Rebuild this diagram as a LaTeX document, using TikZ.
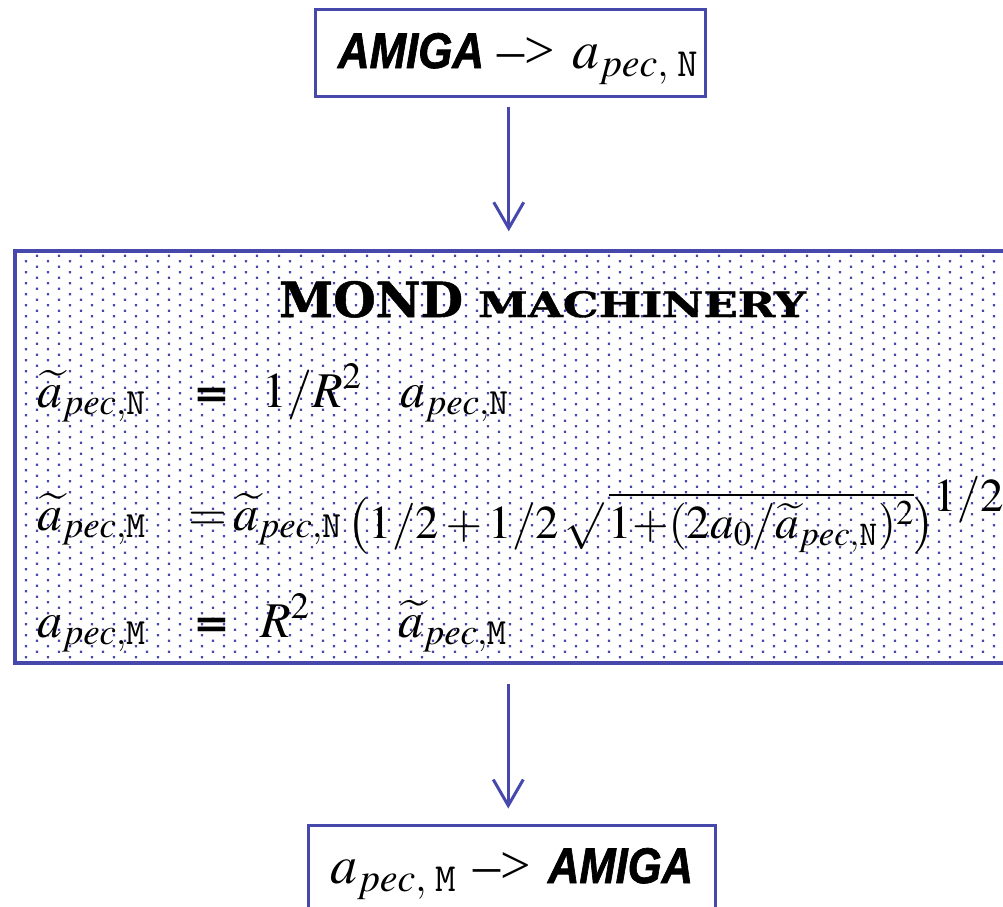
\documentclass[tikz,border=0pt]{standalone}
\usepackage{amsmath}
\usepackage{mathptmx}
\usepackage[no-math]{fontspec}
\setmainfont{Liberation Serif}
\setsansfont{Liberation Sans}
\newfontfamily\titlefont{DejaVu Serif}[FakeBold=1]
\newfontfamily\amigafont{Liberation Sans}[FakeBold=1.5]
\newfontfamily\eqbold{DejaVu Sans}
\usetikzlibrary{arrows.meta}
\definecolor{boxblue}{RGB}{70,72,172}
\newcommand{\ta}{\widetilde{a}}
\newcommand{\mN}{\text{\ttfamily N}}
\newcommand{\mM}{\text{\ttfamily M}}
\newcommand{\beq}{\scalebox{0.88}[0.8]{\eqbold\bfseries =}}
\tikzset{
  flowbox/.style={draw=boxblue, line width=3pt, inner sep=0pt, rectangle},
  flowarrow/.style={draw=boxblue, line width=3pt, -{Straight Barb[length=26pt,width=30pt]}},
  txt/.style={anchor=base west, inner sep=0pt, outer sep=0pt},
  eqfont/.style={font=\fontsize{50}{56}\selectfont},
  eqsmall/.style={font=\fontsize{47}{52}\selectfont},
  boxfont/.style={font=\fontsize{54}{60}\selectfont},
}
\begin{document}
\begin{tikzpicture}[x=1pt,y=-1pt]
\useasboundingbox (0,0) rectangle (1003,906);
\begin{scope}
\clip (0,0) rectangle (1003,906);
% dotted fill of the machinery box
\begin{scope}
\clip (15,251) rectangle (1012,663);
\fill[boxblue] \foreach \i in {0,...,44} { \foreach \j in {0,...,37} {
  ({37+22*\i-1.2},{255.7+11*\j-1.2}) rectangle ++(2.4,2.4)
  ({26+22*\i-1.2},{261.2+11*\j-1.2}) rectangle ++(2.4,2.4) } };
\end{scope}
% boxes
\node[flowbox, minimum width=389.5pt, minimum height=87pt] (top) at (510.25,52.5) {};
\node[flowbox, line width=3.5pt, minimum width=997pt, minimum height=412pt] (mond) at (513.5,457) {};
\node[flowbox, minimum width=406.5pt, minimum height=115pt] (bot) at (511.75,882.5) {};
% arrows
\draw[flowarrow, shorten <=9pt, shorten >=18pt] ([xshift=-1.5pt]top.south) -- ([xshift=-1.5pt]top.south |- mond.north);
\draw[flowarrow, shorten <=19pt, shorten >=15pt] ([xshift=-2pt]top.south |- mond.south) -- ([xshift=-2pt]top.south |- bot.north);
% top box text
\node[txt] (t1) at (338,68) {\resizebox{146pt}{35pt}{\amigafont\bfseries\itshape AMIGA}};
\node[txt, boxfont] (t2) at (497,68) {–>};
\node[txt, boxfont] (t3) at (572,68) {$a_{pec,\;\text{\ttfamily N}}$};
% title
\node[txt] (title1) at (279,317) {\resizebox{184pt}{36pt}{\titlefont\bfseries MOND}};
\node[txt] (title2) at (478,317) {\resizebox{328pt}{26pt}{\titlefont\bfseries MACHINERY}};
% row 1
\node[txt, eqfont] (e1a) at (37,407) {$\ta_{pec,\mN}$};
\node[txt, eqfont] (e1b) at (193,407) {\beq};
\node[txt, eqfont] (e1c) at (262,407) {$1/R^2$};
\node[txt, eqfont] (e1d) at (400,407) {$a_{pec,\mN}$};
% row 2
\node[txt, eqfont] (e2a) at (37,530) {$\ta_{pec,\mM}$};
\node[txt, eqfont] (e2b) at (188,530) {$=$};
\node[txt, eqfont] (e2c) at (233,530) {$\ta_{pec,\mN}$};
\node[txt, eqsmall] (e2d) at (347,538) {$\bigl(1/2+1/2\,\surd\,\overline{1{+}(2a_0/\ta_{pec,\mN})^2}\bigr)^{\kern-2pt\textstyle 1/2}$};
% row 3
\node[txt, eqfont] (e3a) at (37,637) {$a_{pec,\mM}$};
\node[txt, eqfont] (e3b) at (193,637) {\beq};
\node[txt, eqfont] (e3c) at (260,637) {$R^2$};
\node[txt, eqfont] (e3d) at (398,637) {$\ta_{pec,\mM}$};
% bottom box text
\node[txt, boxfont] (b1) at (330,883) {$a_{pec,\;\text{\ttfamily M}}$};
\node[txt, boxfont] (b2) at (473,883) {–>};
\node[txt] (b3) at (548,883) {\resizebox{145pt}{35pt}{\amigafont\bfseries\itshape AMIGA}};
\end{scope}
\end{tikzpicture}
\end{document}
